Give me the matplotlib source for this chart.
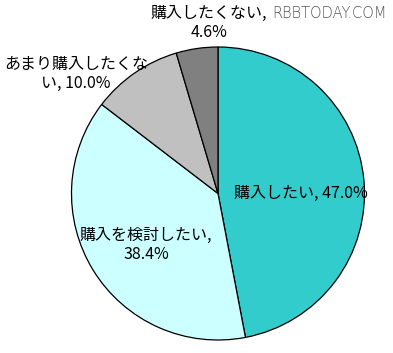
import matplotlib

matplotlib.use("Agg")

import matplotlib.pyplot as plt

plt.rcParams["font.family"] = ["Noto Sans CJK JP", "DejaVu Sans"]

categories = ["購入したい", "購入を検討したい", "あまり購入したくない", "購入したくない"]
shares = [47.0, 38.4, 10.0, 4.6]
label_texts = ["購入したい, 47.0%", "購入を検討したい,\n38.4%",
               "あまり購入したくな\nい, 10.0%", "購入したくない,\n4.6%"]
colors = ["#33CCCC", "#CCFFFF", "#C0C0C0", "#808080"]

W, H = 393, 353
fig = plt.figure(figsize=(W / 100, H / 100), dpi=100)
ax = fig.add_axes([0, 0, 1, 1])

ax.pie(shares, colors=colors, startangle=90, counterclock=False,
       center=(218, H - 193.5), radius=146.5, frame=True,
       wedgeprops=dict(edgecolor="black", linewidth=0.9))
ax.set_xlim(0, W)
ax.set_ylim(0, H)
ax.set_aspect("equal")
ax.axis("off")

# label positions in pixel coords (x, y from top)
label_pos = [(301, 193), (146, 245), (76, 74), (209, 23)]
for text, (x, y) in zip(label_texts, label_pos):
    ax.text(x, H - y, text, ha="center", va="center", fontsize=11.5,
            color="black", linespacing=1.15)

ax.text(329, H - 13, "RBBTODAY.COM", ha="center", va="center",
        fontsize=10.5, color="#555555", family=["DejaVu Sans"], fontweight="light")

fig.savefig("out.png", dpi=100)
